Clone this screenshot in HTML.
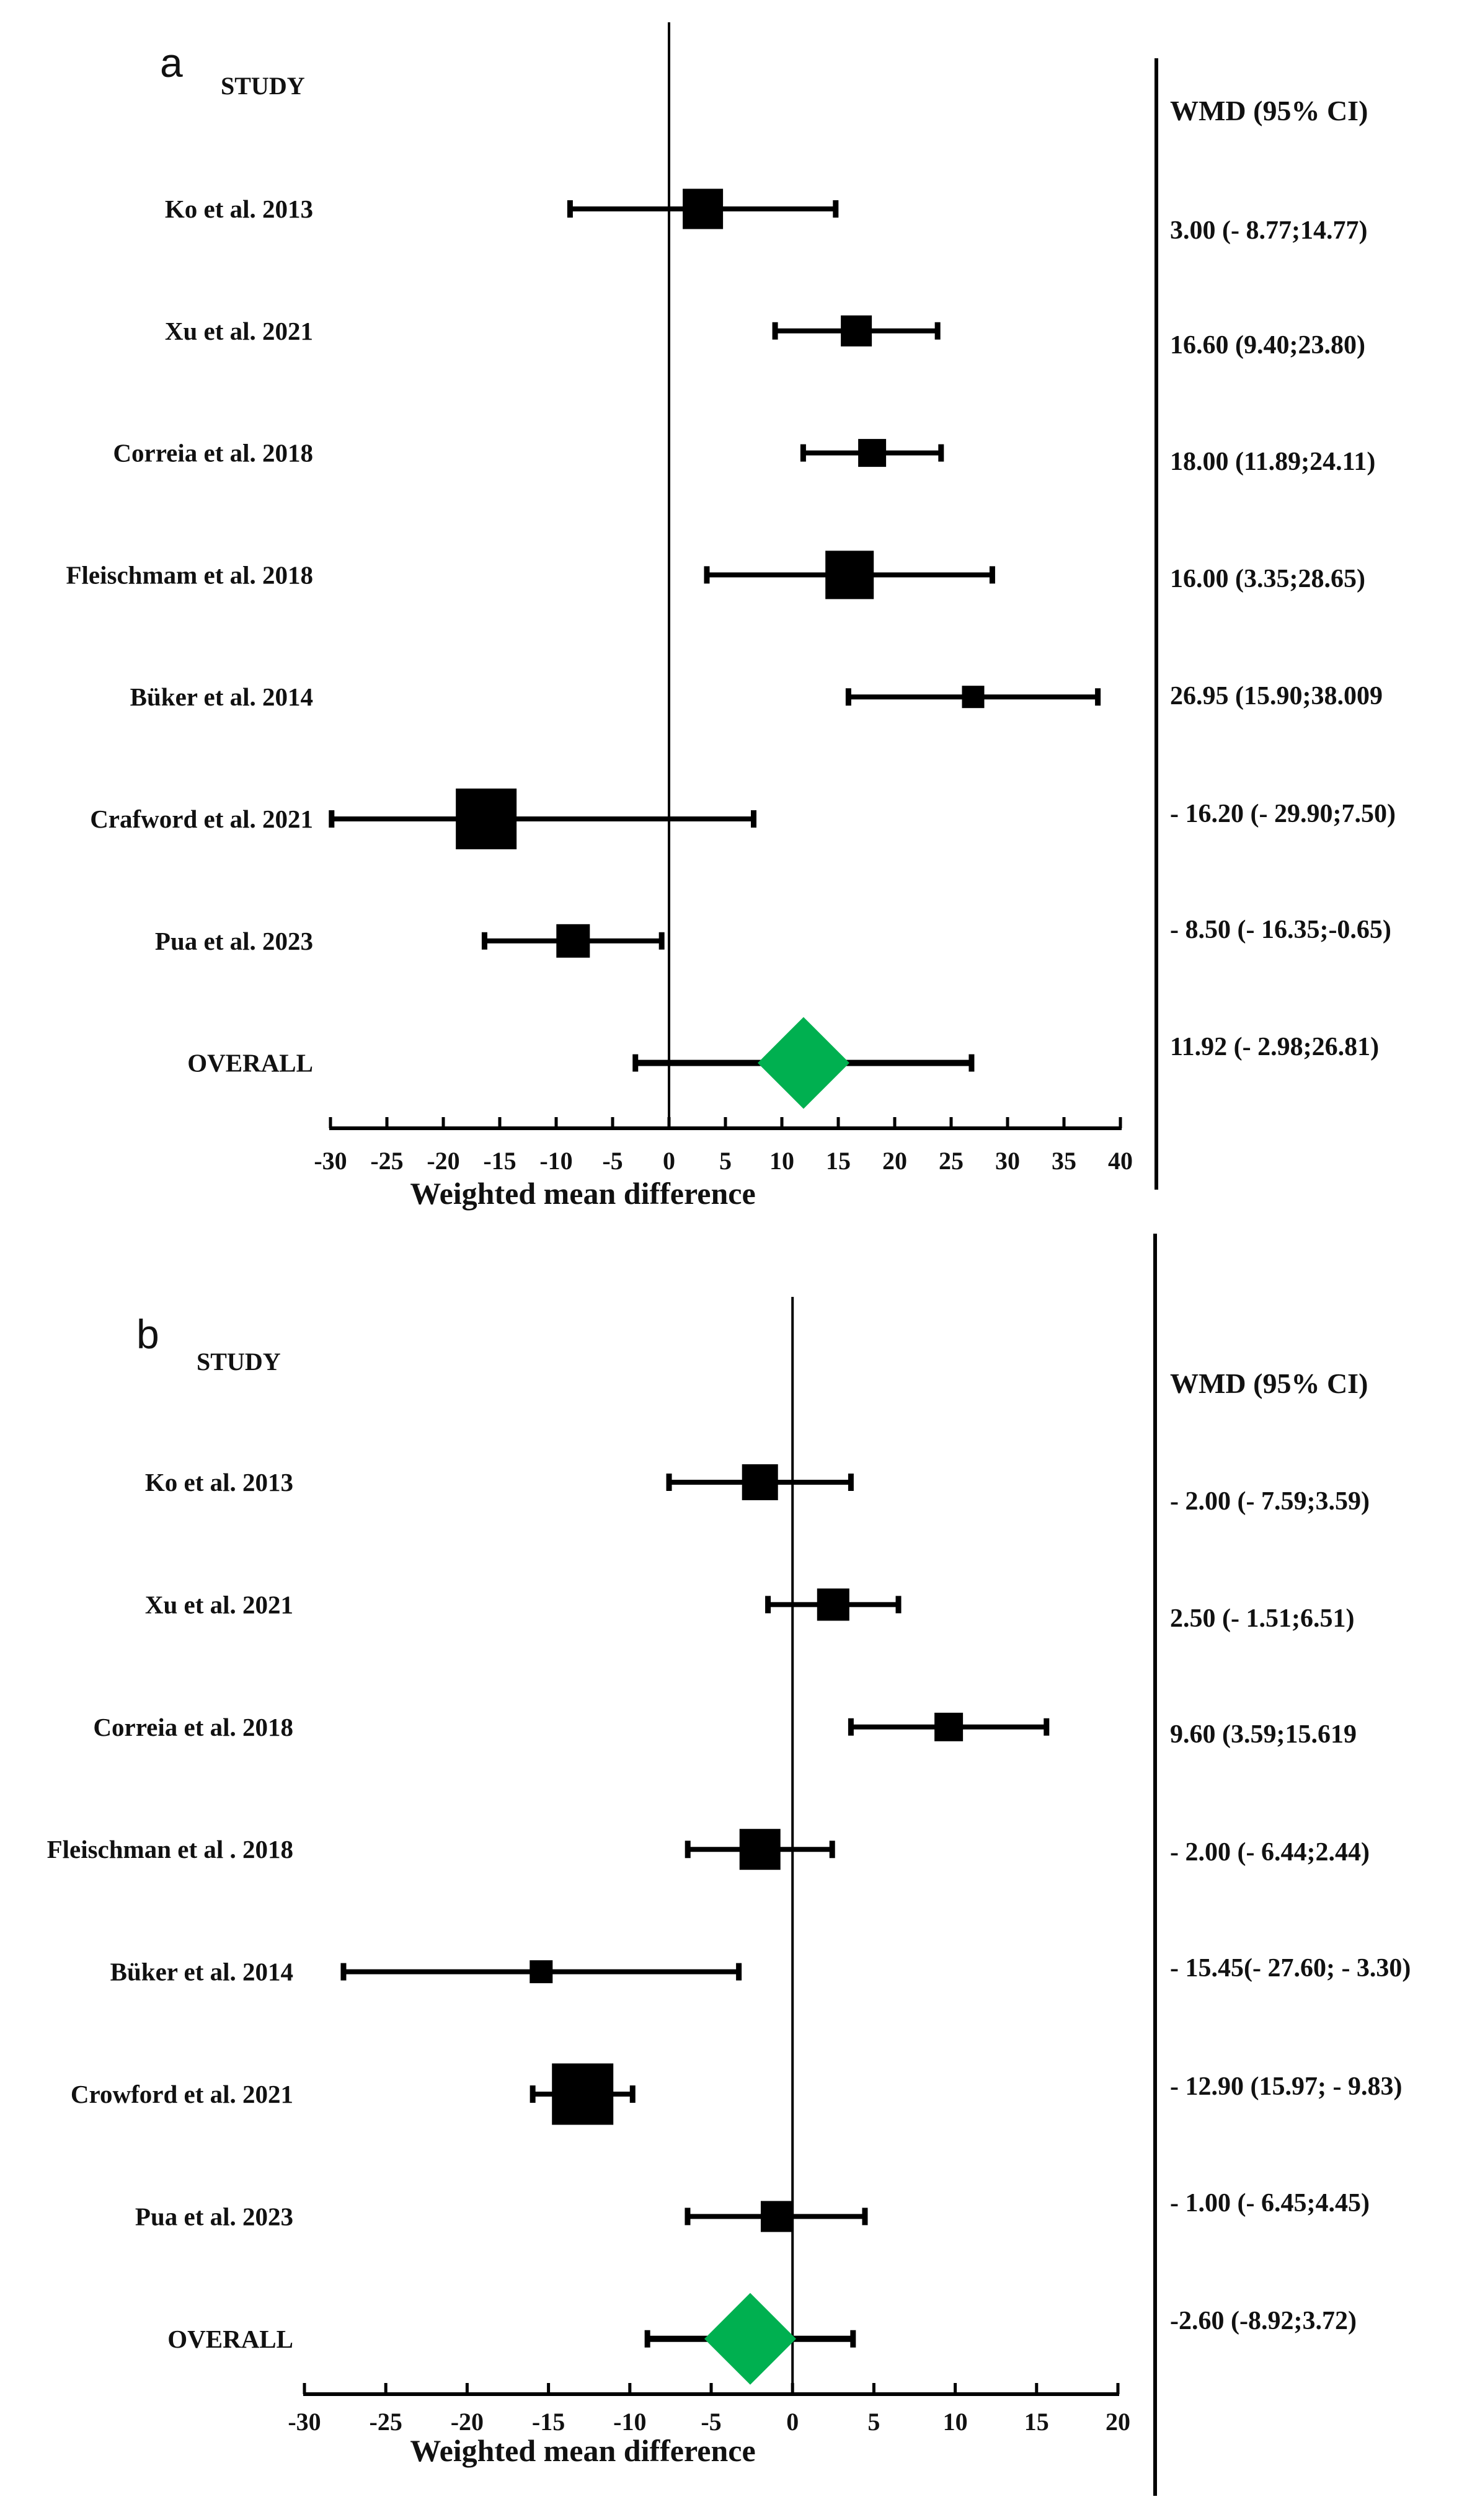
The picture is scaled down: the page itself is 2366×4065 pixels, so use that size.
<!DOCTYPE html>
<html><head><meta charset="utf-8"><style>
html,body{margin:0;padding:0;background:#fff;}
svg{display:block;}
text{font-family:"Liberation Serif",serif;font-weight:bold;fill:#111;}
</style></head><body>
<svg id="chart" width="2366" height="4065" viewBox="0 0 2366 4065" xmlns="http://www.w3.org/2000/svg"></svg>
<script>
// Panel a data
const studiesA = ["Ko et al. 2013","Xu et al. 2021","Correia et al. 2018","Fleischmam et al. 2018","Büker et al. 2014","Crafword et al. 2021","Pua et al. 2023","OVERALL"];
const meanA = [3.00,16.60,18.00,16.00,26.95,-16.20,-8.50,11.92];
const lowA = [-8.77,9.40,11.89,3.35,15.90,-29.90,-16.35,-2.98];
const highA = [14.77,23.80,24.11,28.65,38.00,7.50,-0.65,26.81];
const weightA = [65,50,45,78,36,98,54,148];
const labelsA = ["3.00 (- 8.77;14.77)","16.60 (9.40;23.80)","18.00 (11.89;24.11)","16.00 (3.35;28.65)","26.95 (15.90;38.009","- 16.20 (- 29.90;7.50)","- 8.50 (- 16.35;-0.65)","11.92 (- 2.98;26.81)"];
const ticksA = [-30,-25,-20,-15,-10,-5,0,5,10,15,20,25,30,35,40];
// Panel b data
const studiesB = ["Ko et al. 2013","Xu et al. 2021","Correia et al. 2018","Fleischman et al . 2018","Büker et al. 2014","Crowford et al. 2021","Pua et al. 2023","OVERALL"];
const meanB = [-2.00,2.50,9.60,-2.00,-15.45,-12.90,-1.00,-2.60];
const lowB = [-7.59,-1.51,3.59,-6.44,-27.60,-15.97,-6.45,-8.92];
const highB = [3.59,6.51,15.61,2.44,-3.30,-9.83,4.45,3.72];
const weightB = [58,52,46,66,37,99,50,148];
const labelsB = ["- 2.00 (- 7.59;3.59)","2.50 (- 1.51;6.51)","9.60 (3.59;15.619","- 2.00 (- 6.44;2.44)","- 15.45(- 27.60; - 3.30)","- 12.90 (15.97; - 9.83)","- 1.00 (- 6.45;4.45)","-2.60 (-8.92;3.72)"];
const ticksB = [-30,-25,-20,-15,-10,-5,0,5,10,15,20];

const svg = document.getElementById('chart');
const NS = "http://www.w3.org/2000/svg";
function el(tag, attrs, parent){const e=document.createElementNS(NS,tag);for(const k in attrs)e.setAttribute(k,attrs[k]);(parent||svg).appendChild(e);return e;}

function panel(cfg){
  const g = el('g',{});
  
  
  const x = v => cfg.x0 + (v - cfg.vmin) * (cfg.x1 - cfg.x0) / (cfg.vmax - cfg.vmin);
  const t1 = el('text',{x:cfg.letterX,y:cfg.letterY,'font-size':66,style:'font-family:"Liberation Sans",sans-serif;font-weight:normal'},g);
  t1.textContent = cfg.letter;
  
  
  const st = el('text',{x:cfg.studyX,y:cfg.studyY,'font-size':40},g);
  st.textContent = "STUDY";
  
  
  const wh = el('text',{x:cfg.valX,y:cfg.headerY,'font-size':46},g);
  wh.textContent = "WMD (95% CI)";
  
  
  const z = el('line',{x1:x(0),x2:x(0),y1:cfg.zeroTop,y2:cfg.axisY,stroke:'#000','stroke-width':4},g);
  
  
  const d = el('line',{x1:cfg.divX,x2:cfg.divX,y1:cfg.divTop,y2:cfg.divBottom,stroke:'#000','stroke-width':6},g);
  
  
  const ax = el('line',{x1:x(cfg.vmin)-2,x2:x(cfg.vmax)+2,y1:cfg.axisY,y2:cfg.axisY,stroke:'#000','stroke-width':6},g);
  
  
  cfg.ticks.forEach(v=>{
    const tk = el('line',{x1:x(v),x2:x(v),y1:cfg.axisY-18,y2:cfg.axisY,stroke:'#000','stroke-width':5},g);
    
    
    const tl = el('text',{x:x(v),y:cfg.axisY+cfg.tickOff,'font-size':40,'text-anchor':'middle'},g);
    tl.textContent = String(v);
    
    
  });
  const at = el('text',{x:940,y:cfg.axisY+cfg.titleOff,'font-size':50,'text-anchor':'middle'},g);
  at.textContent = "Weighted mean difference";
  
  
  cfg.studies.forEach((s,i)=>{
    const y = cfg.rowY0 + i*cfg.rowStep;
    const lab = el('text',{x:cfg.labelRight,y:y+14,'font-size':41,'text-anchor':'end'},g);
    lab.textContent = s;
    
    
    const overall = i === cfg.studies.length-1;
    const ci = el('line',{x1:x(cfg.low[i]),x2:x(cfg.high[i]),y1:y,y2:y,stroke:'#000','stroke-width':overall?10:8},g);
    
    
    [cfg.low[i],cfg.high[i]].forEach(v=>{
      const c = el('line',{x1:x(v),x2:x(v),y1:y-14,y2:y+14,stroke:'#000','stroke-width':9},g);
      
      
    });
    const w = cfg.weight[i];
    const cx = x(cfg.mean[i]);
    if(overall){
      const dm = el('polygon',{points:`${cx},${y-w/2} ${cx+w/2},${y} ${cx},${y+w/2} ${cx-w/2},${y}`,fill:'#00b050'},g);
      
      
    } else {
      const sq = el('rect',{x:cx-w/2,y:y-w/2,width:w,height:w,fill:'#000'},g);
      
      
    }
    const vt = el('text',{x:cfg.valX,y:cfg.valY[i]+15,'font-size':42},g);
    vt.textContent = cfg.labels[i];
    
    
  });
}

panel({name:'panel-a',letter:'a',letterX:258,letterY:124,studyX:356,studyY:152,valX:1887,headerY:194,
  x0:533,x1:1807,vmin:-30,vmax:40,ticks:ticksA,zeroTop:36,axisY:1820,tickOff:66,titleOff:122,divX:1865,divTop:94,divBottom:1919,
  studies:studiesA,mean:meanA,low:lowA,high:highA,weight:weightA,labels:labelsA,
  rowY0:337,rowStep:196.8,labelRight:505,valY:[370,555,743,932,1121,1311,1498,1687]});
panel({name:'panel-b',letter:'b',letterX:220,letterY:2175,studyX:317,studyY:2210,valX:1887,headerY:2247,
  x0:491,x1:1803,vmin:-30,vmax:20,ticks:ticksB,zeroTop:2092,axisY:3862,tickOff:58,titleOff:108,divX:1863,divTop:1990,divBottom:4026,
  studies:studiesB,mean:meanB,low:lowB,high:highB,weight:weightB,labels:labelsB,
  rowY0:2391,rowStep:197.4,labelRight:473,valY:[2420,2609,2796,2986,3173,3364,3552,3742]});
</script>
</body></html>
